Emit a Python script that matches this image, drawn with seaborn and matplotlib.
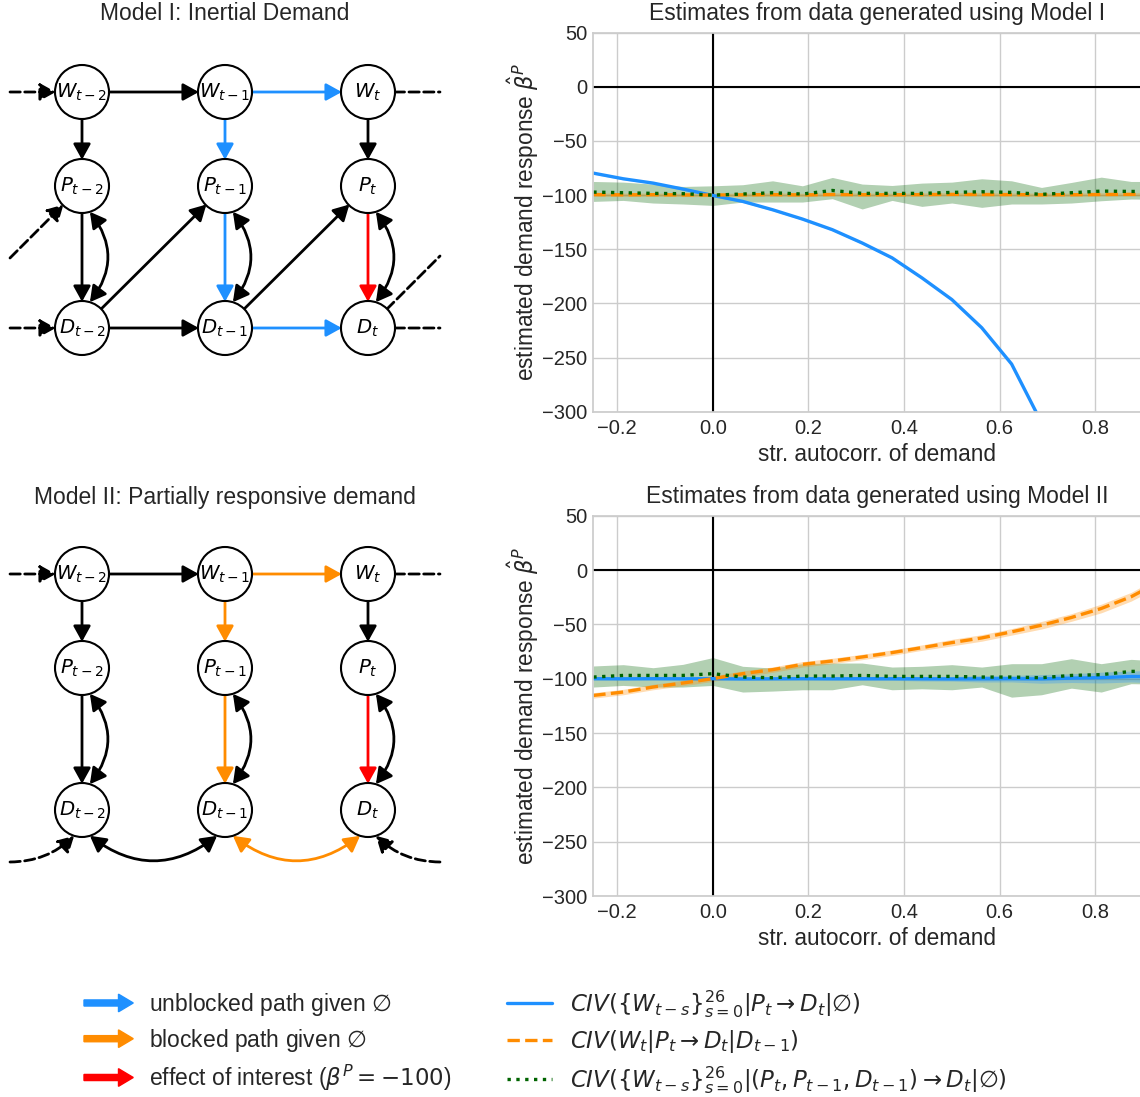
import numpy as np
import pandas as pd
import matplotlib
matplotlib.use("Agg")
import matplotlib.pyplot as plt
import matplotlib.patches as mpatches
from matplotlib.lines import Line2D
from matplotlib.legend_handler import HandlerPatch
import seaborn as sns

# ---------------- data ----------------
rho = [-0.25, -0.1875, -0.125, -0.0625, 0.0, 0.0625, 0.125, 0.1875, 0.25, 0.3125,
       0.375, 0.4375, 0.5, 0.5625, 0.625, 0.6875, 0.75, 0.8125, 0.875, 0.9375]

# Model I
m1_all_lags = [-79.8, -85.0, -89.0, -94.5, -100.4, -105.9, -113.6, -122.2, -132.0, -144.3,
               -158.0, -176.5, -196.5, -222.5, -256.0, -310.0, -380.0, -480.0, -640.0, -900.0]
m1_all_lags_hw = [1.0] * 20
m1_cond = [-99.6, -99.8, -99.7, -99.9, -100.0, -99.8, -99.6, -99.9, -99.5, -99.7,
           -99.8, -99.6, -99.4, -99.5, -99.6, -99.8, -99.7, -99.5, -99.4, -99.4]
m1_cond_hw = [1.5] * 20
m1_joint = [-97.3, -97.9, -98.5, -98.8, -100.1, -99.1, -97.9, -99.1, -95.8, -98.5,
            -98.5, -98.5, -97.6, -97.0, -97.6, -99.4, -97.9, -96.4, -96.7, -96.7]
m1_joint_lo = [-105.9, -105.0, -107.4, -108.3, -109.6, -106.5, -106.5, -106.5, -103.4, -112.9,
               -105.0, -110.5, -107.4, -111.4, -108.3, -108.3, -107.4, -105.3, -103.7, -104.0]
m1_joint_hi = [-87.5, -88.1, -89.9, -92.1, -91.5, -90.5, -86.9, -91.5, -83.8, -89.9,
               -91.2, -89.0, -88.1, -85.0, -86.9, -93.0, -88.4, -83.5, -87.5, -87.5]

# Model II
m2_all_lags = [-100.0, -100.1, -100.0, -100.1, -100.0, -100.2, -100.1, -100.0, -100.1, -100.0,
               -100.0, -100.1, -100.2, -100.1, -100.0, -100.2, -99.5, -99.0, -98.0, -98.0]
m2_all_lags_hw = [1.0, 1.0, 1.0, 1.0, 1.0, 1.0, 1.0, 1.0, 1.0, 1.5,
                  1.5, 2.0, 2.0, 3.0, 3.0, 4.0, 4.0, 5.0, 5.0, 6.0]
m2_cond = [-115.4, -112.3, -107.7, -104.0, -100.0, -95.4, -91.7, -86.8, -83.7, -80.0,
           -76.0, -71.4, -66.8, -62.5, -56.9, -50.8, -43.7, -35.4, -24.6, -10.0]
m2_cond_hw = [2.5, 2.5, 2.5, 2.5, 2.5, 2.5, 2.5, 2.5, 2.5, 2.5,
              2.5, 2.5, 3.0, 3.0, 3.0, 3.5, 3.5, 4.0, 4.0, 4.5]
m2_joint = [-98.5, -97.0, -97.0, -97.0, -95.4, -98.5, -99.1, -97.6, -97.6, -97.0,
            -97.9, -97.9, -97.9, -98.5, -98.5, -99.1, -97.0, -96.3, -93.3, -93.0]
m2_joint_lo = [-107.7, -106.2, -107.7, -107.7, -106.2, -112.3, -111.4, -110.2, -110.2, -105.6,
               -110.2, -109.3, -110.2, -107.7, -117.0, -114.8, -108.7, -112.3, -104.6, -105.0]
m2_joint_hi = [-88.3, -87.1, -89.9, -86.8, -80.6, -88.6, -90.2, -86.2, -85.6, -85.6,
               -89.3, -88.6, -87.1, -89.3, -86.2, -86.2, -81.6, -86.2, -82.2, -84.0]

y_ticks = [50, 0, -50, -100, -150, -200, -250, -300]
x_ticks = [-0.2, 0.0, 0.2, 0.4, 0.6, 0.8]

legend_line_labels = [
    r"$CIV(\{W_{t-s}\}_{s=0}^{26}|P_t \rightarrow D_t|\varnothing)$",
    r"$CIV(W_t|P_t \rightarrow D_t|D_{t-1})$",
    r"$CIV(\{W_{t-s}\}_{s=0}^{26}|(P_t,P_{t-1},D_{t-1}) \rightarrow D_t|\varnothing)$",
]
legend_arrow_labels = [
    r"unblocked path given $\varnothing$",
    r"blocked path given $\varnothing$",
    r"effect of interest ($\beta^P = -100$)",
]

# ---------------- style ----------------
sns.set_theme(style="whitegrid")
plt.rcParams["font.family"] = ["Liberation Sans", "DejaVu Sans"]
plt.rcParams["mathtext.fontset"] = "dejavusans"

BLUE = "#1E90FF"
ORANGE = "#FF8C00"
GREEN = "#006400"
RED = "#FF0000"

W_PX, H_PX = 1140, 1097
fig = plt.figure(figsize=(W_PX / 100, H_PX / 100), dpi=100)


def px_axes(left, top, width, height):
    return fig.add_axes([left / W_PX, 1 - (top + height) / H_PX, width / W_PX, height / H_PX])


# ---------------- right plots ----------------
def sim_panel(ax, title, all_lags, all_hw, cond, cond_hw, joint, jlo, jhi):
    x = np.array(rho)
    ax.fill_between(x, jlo, jhi, color=GREEN, alpha=0.3, lw=0)
    ax.fill_between(x, np.array(all_lags) - np.array(all_hw), np.array(all_lags) + np.array(all_hw),
                    color=BLUE, alpha=0.3, lw=0)
    ax.fill_between(x, np.array(cond) - np.array(cond_hw), np.array(cond) + np.array(cond_hw),
                    color=ORANGE, alpha=0.3, lw=0)
    ax.axhline(0, color="black", lw=1.5, zorder=1.5)
    ax.axvline(0, color="black", lw=1.5, zorder=1.5)
    sns.lineplot(x=x, y=all_lags, ax=ax, color=BLUE, lw=2.4, linestyle="-")
    sns.lineplot(x=x, y=cond, ax=ax, color=ORANGE, lw=2.4, linestyle="--")
    sns.lineplot(x=x, y=joint, ax=ax, color=GREEN, lw=2.4, linestyle=":")
    ax.set_xlim(rho[0], rho[-1])
    ax.set_ylim(-300, 50)
    ax.set_yticks(y_ticks)
    ax.set_xticks(x_ticks)
    ax.tick_params(labelsize=14.5, colors=".15", length=0)
    ax.tick_params(axis="x", pad=5)
    ax.tick_params(axis="y", pad=4.3)
    ax.set_title(title, fontsize=16.5, color=".15", pad=9)
    ax.set_xlabel("str. autocorr. of demand", fontsize=16.3, color=".15", labelpad=3.5)
    ax.set_ylabel(r"estimated demand response $\hat{\beta}^P$", fontsize=16.3, color=".15",
                  labelpad=1)


ax1 = px_axes(593.3, 32.5, 567.7, 379.2)
sim_panel(ax1, "Estimates from data generated using Model I",
          m1_all_lags, m1_all_lags_hw, m1_cond, m1_cond_hw, m1_joint, m1_joint_lo, m1_joint_hi)
ax2 = px_axes(593.3, 515.7, 567.7, 380.3)
sim_panel(ax2, "Estimates from data generated using Model II",
          m2_all_lags, m2_all_lags_hw, m2_cond, m2_cond_hw, m2_joint, m2_joint_lo, m2_joint_hi)

# ---------------- DAGs ----------------
col_x = [82, 225, 368]
row_y = {"W": 92, "P": 186, "D": 328}
R = 27
lags = ["t-2", "t-1", "t"]
HEAD = "-|>,head_length=0.47,head_width=0.26"
BIHEAD = "<|-|>,head_length=0.47,head_width=0.26"


def draw_nodes(ax):
    nodes = {}
    for v in ["W", "P", "D"]:
        for i, lag in enumerate(lags):
            xy = (col_x[i], row_y[v])
            c = mpatches.Circle(xy, R, fc="white", ec="black", lw=1.5, zorder=3)
            ax.add_patch(c)
            ax.text(xy[0], xy[1], rf"${v}_{{{lag}}}$", ha="center", va="center",
                    fontsize=14.2, color="black", zorder=4)
            nodes[(v, i)] = (xy, c)
    return nodes


def edge(ax, nodes, a, b, color="black", style=HEAD, rad=0.0, ls="-"):
    (pa, ca), (pb, cb) = nodes[a], nodes[b]
    ar = mpatches.FancyArrowPatch(pa, pb, patchA=ca, patchB=cb, arrowstyle=style,
                                  connectionstyle=f"arc3,rad={rad}", mutation_scale=20,
                                  color=color, lw=2, ls=ls, shrinkA=0, shrinkB=0, zorder=2)
    ax.add_patch(ar)


def bpoint(nodes, n, ang):
    (cx, cy), _ = nodes[n]
    a = np.deg2rad(ang)
    return (cx + R * np.cos(a), cy + R * np.sin(a))


def free_edge(ax, pa, pb, color="black", style=HEAD, rad=0.0, ls="-", patchA=None, patchB=None):
    ar = mpatches.FancyArrowPatch(pa, pb, patchA=patchA, patchB=patchB, arrowstyle=style,
                                  connectionstyle=f"arc3,rad={rad}", mutation_scale=20,
                                  color=color, lw=2, ls=ls, shrinkA=0, shrinkB=0, zorder=2)
    ax.add_patch(ar)


def dag_axes(top):
    ax = px_axes(0, top, 450, 450)
    ax.set_xlim(0, 450)
    ax.set_ylim(450, 0)
    ax.axis("off")
    return ax


def pd_curves(ax, nodes):
    for i in range(3):
        free_edge(ax, bpoint(nodes, ("P", i), 73), bpoint(nodes, ("D", i), -73),
                  style=BIHEAD, rad=-0.38)


# Model I
axd1 = dag_axes(0)
axd1.text(225, 14, "Model I: Inertial Demand", ha="center", va="center", fontsize=16.5, color=".15")
n1 = draw_nodes(axd1)
free_edge(axd1, (10, row_y["W"]), n1[("W", 0)][0], ls="--", patchB=n1[("W", 0)][1])
edge(axd1, n1, ("W", 0), ("W", 1))
edge(axd1, n1, ("W", 1), ("W", 2), color=BLUE)
free_edge(axd1, n1[("W", 2)][0], (440, row_y["W"]), style="-", ls="--", patchA=n1[("W", 2)][1])
edge(axd1, n1, ("W", 0), ("P", 0))
edge(axd1, n1, ("W", 1), ("P", 1), color=BLUE)
edge(axd1, n1, ("W", 2), ("P", 2))
edge(axd1, n1, ("P", 0), ("D", 0))
edge(axd1, n1, ("P", 1), ("D", 1), color=BLUE)
edge(axd1, n1, ("P", 2), ("D", 2), color=RED)
pd_curves(axd1, n1)
edge(axd1, n1, ("D", 0), ("P", 1))
edge(axd1, n1, ("D", 1), ("P", 2))
free_edge(axd1, (10, 258), n1[("P", 0)][0], ls="--", patchB=n1[("P", 0)][1])
free_edge(axd1, n1[("D", 2)][0], (440, 256), style="-", ls="--", patchA=n1[("D", 2)][1])
free_edge(axd1, (10, row_y["D"]), n1[("D", 0)][0], ls="--", patchB=n1[("D", 0)][1])
edge(axd1, n1, ("D", 0), ("D", 1))
edge(axd1, n1, ("D", 1), ("D", 2), color=BLUE)
free_edge(axd1, n1[("D", 2)][0], (440, row_y["D"]), style="-", ls="--", patchA=n1[("D", 2)][1])

# Model II
axd2 = dag_axes(482)
axd2.text(225, 15, "Model II: Partially responsive demand", ha="center", va="center",
          fontsize=16.5, color=".15")
n2 = draw_nodes(axd2)
free_edge(axd2, (10, row_y["W"]), n2[("W", 0)][0], ls="--", patchB=n2[("W", 0)][1])
edge(axd2, n2, ("W", 0), ("W", 1))
edge(axd2, n2, ("W", 1), ("W", 2), color=ORANGE)
free_edge(axd2, n2[("W", 2)][0], (440, row_y["W"]), style="-", ls="--", patchA=n2[("W", 2)][1])
edge(axd2, n2, ("W", 0), ("P", 0))
edge(axd2, n2, ("W", 1), ("P", 1), color=ORANGE)
edge(axd2, n2, ("W", 2), ("P", 2))
edge(axd2, n2, ("P", 0), ("D", 0))
edge(axd2, n2, ("P", 1), ("D", 1), color=ORANGE)
edge(axd2, n2, ("P", 2), ("D", 2), color=RED)
pd_curves(axd2, n2)
free_edge(axd2, bpoint(n2, ("D", 0), 73), bpoint(n2, ("D", 1), 107), style=BIHEAD, rad=0.38)
free_edge(axd2, bpoint(n2, ("D", 1), 73), bpoint(n2, ("D", 2), 107), style=BIHEAD, rad=0.38,
          color=ORANGE)
free_edge(axd2, (10, 380), bpoint(n2, ("D", 0), 107), ls="--", rad=0.2)
free_edge(axd2, (440, 380), bpoint(n2, ("D", 2), 73), ls="--", rad=-0.2)

# ---------------- legends ----------------
def make_arrow(legend, orig_handle, xdescent, ydescent, width, height, fontsize):
    return mpatches.FancyArrow(-xdescent, 0.5 * height - ydescent, width, 0,
                               length_includes_head=True, width=0.38 * height,
                               head_width=1.1 * height, head_length=0.3 * width)


arrow_handles = [mpatches.Patch(color=c) for c in [BLUE, ORANGE, RED]]
leg1 = fig.legend(arrow_handles, legend_arrow_labels, loc="upper left",
                  bbox_to_anchor=(84 / W_PX, 1 - 991 / H_PX), frameon=False,
                  fontsize=16.5, handlelength=2.15, handletextpad=0.7, labelspacing=0.38,
                  borderpad=0, borderaxespad=0,
                  handler_map={mpatches.Patch: HandlerPatch(patch_func=make_arrow)})
for t in leg1.get_texts():
    t.set_color(".15")

line_handles = [Line2D([], [], color=BLUE, lw=2.4, ls="-"),
                Line2D([], [], color=ORANGE, lw=2.4, ls="--"),
                Line2D([], [], color=GREEN, lw=2.4, ls=":")]
leg2 = fig.legend(line_handles, legend_line_labels, loc="upper left",
                  bbox_to_anchor=(507 / W_PX, 1 - 988 / H_PX), frameon=False,
                  fontsize=16.5, handlelength=1.95, handletextpad=0.8, labelspacing=0.38,
                  borderpad=0, borderaxespad=0)
for t in leg2.get_texts():
    t.set_color(".15")

fig.savefig("out.png", dpi=100)
